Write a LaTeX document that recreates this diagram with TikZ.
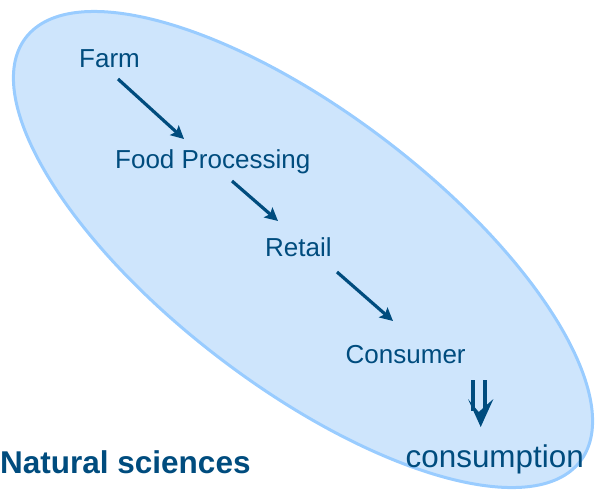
\documentclass[tikz,border=0pt]{standalone}
\usepackage{fontspec}
\setmainfont{Liberation Sans}
\usetikzlibrary{arrows.meta}
\definecolor{txtblue}{RGB}{0,76,126}
\definecolor{ellfill}{RGB}{206,229,252}
\definecolor{elledge}{RGB}{153,204,255}
\tikzset{
  lbl/.style={anchor=base west, inner sep=0pt, text=txtblue, font=\fontsize{26}{30}\selectfont},
  flow/.style={draw=txtblue, line width=3.2pt, -{Stealth[length=13pt,width=13pt,inset=2.5pt]}},
}
\begin{document}
\begin{tikzpicture}[x=1pt,y=-1pt]
\useasboundingbox (0,0) rectangle (597,491);
% ellipse
\draw[fill=ellfill, draw=elledge, line width=3pt, rotate around={-37.35:(303,249.5)}]
  (303,249.5) ellipse [x radius=348.9, y radius=136.9];
% labels
\node[lbl] (farm) at (79,67) {Farm};
\node[lbl] (food) at (115,168) {Food Processing};
\node[lbl] (retail) at (265,256) {Retail};
\node[lbl] (consumer) at (345.5,363) {Consumer};
\node[lbl, font=\fontsize{31.4}{36}\selectfont] (consumption) at (405.5,467) {consumption};
\node[lbl, font=\fontsize{31.5}{36}\selectfont\bfseries] (natural) at (0,473) {Natural sciences};
% arrow end points
\coordinate (a1s) at (118,79);
\coordinate (a1e) at (184,139);
\coordinate (a2s) at (232,181);
\coordinate (a2e) at (278,221);
\coordinate (a3s) at (337,272);
\coordinate (a3e) at (393,321);
\draw[flow] (a1s) -- (a1e);
\draw[flow] (a2s) -- (a2e);
\draw[flow] (a3s) -- (a3e);
% double arrow
\coordinate (dtop) at (480.7,380);
\coordinate (dtip) at (480.7,427);
\fill[txtblue] ([xshift=-10.2pt]dtop) rectangle ([xshift=-6.2pt,yshift=16pt]dtip);
\fill[txtblue] ([xshift=1.8pt]dtop) rectangle ([xshift=5.8pt,yshift=16pt]dtip);
\fill[txtblue] (dtip) -- ([xshift=-12.7pt,yshift=28pt]dtip) -- ([xshift=-2pt,yshift=15pt]dtip) -- ([xshift=12.7pt,yshift=28pt]dtip) -- cycle;
\end{tikzpicture}
\end{document}
